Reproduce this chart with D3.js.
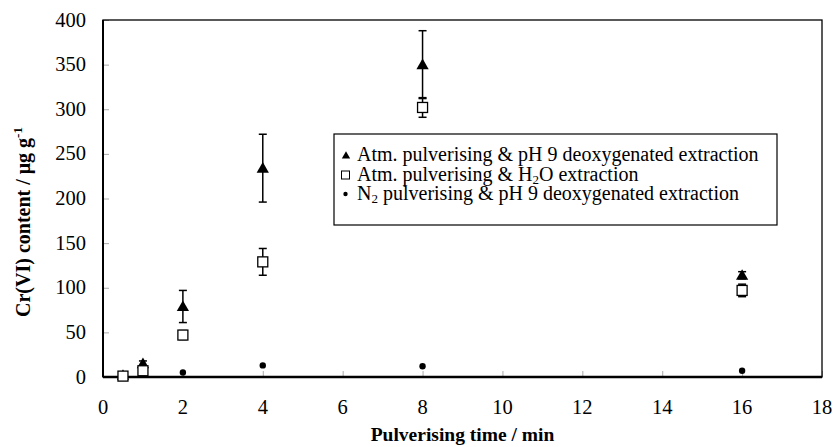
<!DOCTYPE html>
<html>
<head>
<meta charset="utf-8">
<script src="https://cdn.jsdelivr.net/npm/d3@7"></script>
<style>
  body { margin: 0; background: #fff; }
  svg text { font-family: "Liberation Serif", "Times New Roman", serif; }
</style>
</head>
<body>
<div id="chart"></div>
<script>
// data
var times = [0.5, 1, 2, 4, 8, 16]
var triVals = [2, 15, 79, 234, 350, 114]
var triErr = [1, 3, 18, 38, 38, 4]
var sqVals = [1, 7, 47, 129, 302, 97]
var sqErr = [1, 3, 5, 15, 11, 7]
var dotVals = [0.5, 3, 5, 13, 12, 7]
var xTicks = [0, 2, 4, 6, 8, 10, 12, 14, 16, 18]
var yTicks = [0, 50, 100, 150, 200, 250, 300, 350, 400]

var width = 833, height = 447
var margin = {top: 20, right: 11, bottom: 70, left: 103}
var chartWidth = width - margin.left - margin.right
var chartHeight = height - margin.top - margin.bottom

var svg = d3.select("#chart").append("svg")
    .attr("width", width).attr("height", height)

var xScale = d3.scaleLinear().domain([0, 18]).range([0, chartWidth])
var yScale = d3.scaleLinear().domain([0, 400]).range([chartHeight, 0])

var g = svg.append("g")
    .attr("transform", "translate(" + [margin.left, margin.top] + ")")

// inward gray ticks
var xAxis = g.append("g")
    .attr("transform", "translate(0," + chartHeight + ")")
    .call(d3.axisTop(xScale).tickValues(xTicks).tickSize(6).tickFormat(""))
xAxis.select(".domain").remove()
xAxis.selectAll("line").attr("stroke", "#aaa")

var yAxis = g.append("g")
    .call(d3.axisRight(yScale).tickValues(yTicks).tickSize(6).tickFormat(""))
yAxis.select(".domain").remove()
yAxis.selectAll("line").attr("stroke", "#aaa")

// tick labels
g.selectAll(".xlab").data(xTicks).enter().append("text")
    .attr("x", function (d) { return xScale(d) })
    .attr("y", chartHeight + 37)
    .attr("text-anchor", "middle")
    .style("font-size", "20.5px")
    .text(function (d) { return d })

g.selectAll(".ylab").data(yTicks).enter().append("text")
    .attr("x", -17)
    .attr("y", function (d) { return yScale(d) + 6.5 })
    .attr("text-anchor", "end")
    .style("font-size", "20.5px")
    .text(function (d) { return d })

// frame
g.append("rect")
    .attr("width", chartWidth).attr("height", chartHeight)
    .attr("fill", "none").attr("stroke", "#000").attr("stroke-width", 1.3)
g.append("line")
    .attr("x1", 0).attr("x2", chartWidth)
    .attr("y1", chartHeight).attr("y2", chartHeight)
    .attr("stroke", "#000").attr("stroke-width", 2.5)
g.append("line")
    .attr("x1", 0).attr("x2", 0)
    .attr("y1", 0).attr("y2", chartHeight)
    .attr("stroke", "#000").attr("stroke-width", 2)

function errorBars(vals, errs) {
    var eb = g.append("g").attr("stroke", "#000").attr("stroke-width", 1.5)
    times.forEach(function (t, i) {
        var x = xScale(t), y1 = yScale(vals[i] + errs[i]), y2 = yScale(vals[i] - errs[i])
        eb.append("line").attr("x1", x).attr("x2", x).attr("y1", y1).attr("y2", y2)
        eb.append("line").attr("x1", x - 4).attr("x2", x + 4).attr("y1", y1).attr("y2", y1)
        eb.append("line").attr("x1", x - 4).attr("x2", x + 4).attr("y1", y2).attr("y2", y2)
    })
}
errorBars(triVals, triErr)
errorBars(sqVals, sqErr)

// dots
g.selectAll(".dot").data(dotVals).enter().append("circle")
    .attr("cx", function (d, i) { return xScale(times[i]) })
    .attr("cy", function (d) { return yScale(d) })
    .attr("r", 3.2)
    .attr("fill", "#000")

// triangles
var tri = d3.symbol().type(d3.symbolTriangle).size(65)
g.selectAll(".tri").data(triVals).enter().append("path")
    .attr("d", tri)
    .attr("transform", function (d, i) { return "translate(" + [xScale(times[i]), yScale(d) + 1] + ")" })
    .attr("fill", "#000")

// squares
g.selectAll(".sq").data(sqVals).enter().append("rect")
    .attr("x", function (d, i) { return xScale(times[i]) - 5 })
    .attr("y", function (d) { return yScale(d) - 5 })
    .attr("width", 10).attr("height", 10)
    .attr("fill", "#fff").attr("stroke", "#000").attr("stroke-width", 1.3)

// legend
var lg = svg.append("g").attr("transform", "translate(334,134)")
lg.append("rect").attr("width", 443).attr("height", 91)
    .attr("fill", "#fff").attr("stroke", "#000").attr("stroke-width", 1.2)
lg.append("path").attr("d", d3.symbol().type(d3.symbolTriangle).size(30))
    .attr("transform", "translate(12,22)").attr("fill", "#000")
lg.append("text").attr("x", 23).attr("y", 27).style("font-size", "20px")
    .text("Atm. pulverising & pH 9 deoxygenated extraction")
lg.append("rect").attr("x", 7.5).attr("y", 37).attr("width", 8).attr("height", 8)
    .attr("fill", "#fff").attr("stroke", "#000").attr("stroke-width", 1)
var t2 = lg.append("text").attr("x", 23).attr("y", 46.5).style("font-size", "20px")
t2.append("tspan").text("Atm. pulverising & H")
t2.append("tspan").attr("dy", 3).style("font-size", "13px").text("2")
t2.append("tspan").attr("dy", -3).text("O extraction")
lg.append("circle").attr("cx", 11.5).attr("cy", 60).attr("r", 2.2).attr("fill", "#000")
var t3 = lg.append("text").attr("x", 23).attr("y", 66).style("font-size", "20px")
t3.append("tspan").text("N")
t3.append("tspan").attr("dy", 3).style("font-size", "13px").text("2")
t3.append("tspan").attr("dy", -3).text(" pulverising & pH 9 deoxygenated extraction")

// axis titles
svg.append("text")
    .attr("x", margin.left + xScale(9)).attr("y", 441)
    .attr("text-anchor", "middle")
    .style("font-size", "19.5px").style("font-weight", "bold")
    .text("Pulverising time / min")

var yt = svg.append("text")
    .attr("transform", "translate(30,222) rotate(-90)")
    .attr("text-anchor", "middle")
    .style("font-size", "20px").style("font-weight", "bold")
yt.append("tspan").text("Cr(VI) content / μg g")
yt.append("tspan").attr("dy", -8).style("font-size", "13px").text("-1")
</script>
</body>
</html>
